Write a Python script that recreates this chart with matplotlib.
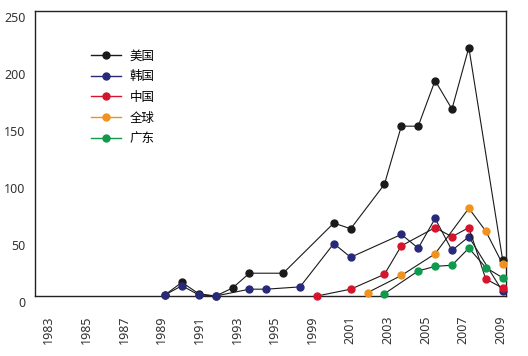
import numpy as np
import matplotlib.pyplot as plt
import matplotlib.transforms as mtransforms
from matplotlib.lines import Line2D

# Patent counts per year
us_years = [1989, 1990, 1991, 1992, 1993, 1994, 1996, 1999, 2000, 2002, 2003, 2004, 2005, 2006, 2007, 2009]
us_vals = [1, 12, 2, 0, 7, 20, 20, 64, 59, 98, 149, 149, 189, 164, 218, 32]

kr_years = [1989, 1990, 1991, 1992, 1994, 1995, 1997, 1999, 2000, 2003, 2004, 2005, 2006, 2007, 2009]
kr_vals = [1, 9, 1, 0, 6, 6, 8, 46, 34, 54, 42, 68, 40, 52, 4]

cn_years = [1998, 2000, 2002, 2003, 2005, 2006, 2007, 2008, 2009]
cn_vals = [0, 6, 19, 44, 60, 52, 60, 15, 7]

world_years = [2001, 2003, 2005, 2007, 2008, 2009]
world_vals = [3, 18, 37, 77, 57, 28]

gd_years = [2002, 2004, 2005, 2006, 2007, 2008, 2009]
gd_vals = [2, 22, 26, 27, 42, 25, 16]

series_names = ['美国', '韩国', '中国', '全球', '广东']
series_colors = ['#1a1a1a', '#27297a', '#d6142b', '#ef9320', '#0f9a4c']

x_tick_labels = ['1983', '1985', '1987', '1989', '1991', '1993', '1995',
                 '1999', '2001', '2003', '2005', '2007', '2009']
y_ticks = [0, 50, 100, 150, 200, 250]

plt.rcParams['font.family'] = ['Noto Sans', 'Noto Sans CJK SC', 'DejaVu Sans']

fig = plt.figure(figsize=(5.28, 3.56), dpi=100)
ax = fig.add_axes([0.0663, 0.1685, 0.892, 0.8005])

all_series = [(us_years, us_vals), (kr_years, kr_vals), (cn_years, cn_vals),
              (world_years, world_vals), (gd_years, gd_vals)]
for (xs, ys), col in zip(all_series, series_colors):
    ax.plot(xs, ys, color='#1a1a1a', lw=0.8, marker='o', ms=5,
            mfc=col, mec=col, clip_on=False, zorder=3)

ax.set_xlim(1981.3, 2009.2)
ax.set_ylim(0, 248)

# tick labels are spaced evenly along the axis, as in the source chart
ax.set_xticks(np.linspace(1982.1, 2008.9, len(x_tick_labels)))
ax.set_xticklabels(x_tick_labels, rotation=90, fontsize=9, color='#333333')
ax.set_yticks(y_ticks)
ax.set_yticklabels([str(v) for v in y_ticks], fontsize=9, color='#333333')
ax.tick_params(axis='both', length=0)
ax.tick_params(axis='x', pad=14)
ax.tick_params(axis='y', pad=7)

shift = mtransforms.ScaledTranslation(0, -0.06, fig.dpi_scale_trans)
for lab in ax.get_yticklabels():
    lab.set_transform(lab.get_transform() + shift)

for sp in ax.spines.values():
    sp.set_linewidth(1.0)
    sp.set_color('#222222')

handles = [Line2D([], [], color=c, lw=1.0, marker='o', ms=5, mfc=c, mec=c)
           for c in series_colors]
leg = ax.legend(handles, series_names, loc='upper left',
                bbox_to_anchor=(0.095, 0.905), frameon=False,
                prop={'family': 'Noto Sans CJK SC', 'size': 9},
                handlelength=2.4, handletextpad=0.7, labelspacing=0.62)

fig.savefig('out.png', dpi=100)
